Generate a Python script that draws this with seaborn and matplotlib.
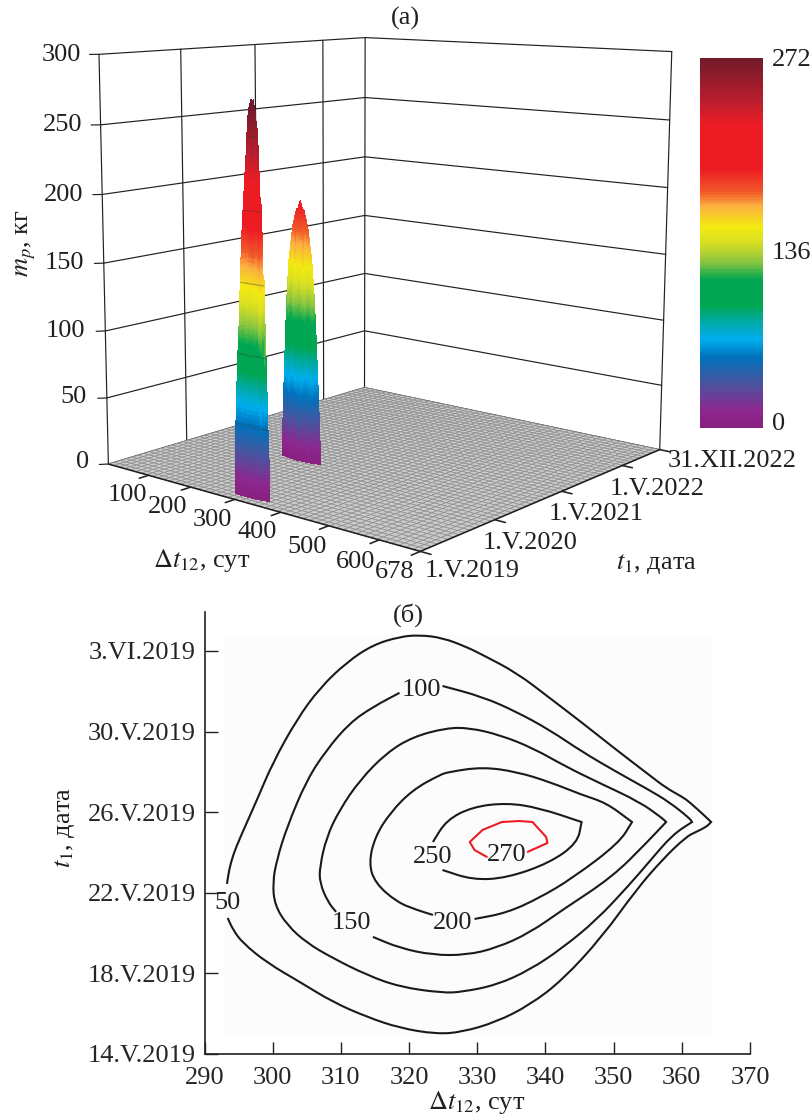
import numpy as np
import matplotlib
matplotlib.use("Agg")
import matplotlib.pyplot as plt
import matplotlib.tri as mtri
from matplotlib.colors import LinearSegmentedColormap
from matplotlib.patches import PathPatch
from matplotlib.path import Path
import seaborn as sns

sns.set_style("ticks")
plt.rcParams["font.family"] = ["Liberation Serif", "DejaVu Serif"]
plt.rcParams["mathtext.fontset"] = "stix"
plt.rcParams["text.color"] = "#231f20"

# contours of panel (b): launch gap in days, t1 in days after 14.V.2019
dt_50 = [293.3, 293.6, 294.2, 295.2, 297.7, 300.0, 303.5, 306.9, 310.9, 314.7, 318.6, 321.5, 324.9, 328.4, 330.8,
         335.8, 340.6, 345.4, 350.4, 355.2, 357.7, 360.1, 361.1, 363.7, 364.3, 363.6, 362.1, 360.6, 357.1, 353.3,
         348.3, 342.5, 337.7, 332.8, 327.8, 324.0, 318.6, 313.8, 308.8, 304.0, 299.2, 295.6, 294.2, 293.4]
t_50 = [8.44, 9.13, 9.88, 10.72, 12.61, 14.44, 16.58, 18.16, 19.45, 20.30, 20.70, 20.79, 20.65, 20.20, 19.80,
        18.91, 17.67, 16.43, 15.09, 13.85, 13.20, 12.75, 12.51, 11.71, 11.51, 11.27, 11.02, 10.77, 9.63, 8.14,
        5.81, 3.67, 2.43, 1.59, 1.09, 0.99, 1.29, 1.84, 2.58, 3.57, 4.52, 5.51, 6.15, 6.75]

dt_100 = [324.9, 330.8, 335.8, 340.6, 345.4, 350.4, 355.2, 358.1, 361.1, 361.5, 358.6, 355.2, 352.3, 347.5, 342.5,
          337.7, 332.8, 327.8, 324.9, 318.6, 313.8, 308.8, 305.0, 302.1, 300.3, 300.0, 300.6, 302.1, 305.0, 307.9,
          311.3, 314.7, 318.6]
t_100 = [18.26, 17.72, 16.97, 16.08, 14.99, 14.00, 13.10, 12.51, 11.71, 11.51, 10.87, 9.53, 8.39, 6.65, 5.26,
         4.17, 3.42, 3.08, 3.03, 3.33, 3.92, 4.76, 5.51, 6.40, 7.39, 8.49, 9.63, 11.27, 13.60, 15.09,
         16.43, 17.22, 17.92]

dt_150 = [314.7, 318.6, 323.5, 328.4, 332.8, 337.7, 342.5, 349.8, 354.8, 357.7, 357.1, 353.8, 347.9, 343.1, 338.1,
          333.3, 328.9, 325.5, 320.5, 316.7, 312.8, 309.8, 307.9, 306.9, 306.9, 308.1, 309.3]
t_150 = [5.81, 5.26, 4.91, 4.91, 5.26, 6.01, 7.15, 8.78, 10.47, 11.51, 11.71, 12.51, 13.45, 14.24, 15.19,
         15.83, 16.18, 16.18, 15.73, 14.94, 13.60, 12.11, 10.77, 9.28, 8.49, 7.54, 7.05]

dt_200 = [329.6, 334.3, 339.1, 344.0, 350.8, 352.7, 352.3, 348.9, 345.4, 340.6, 335.8, 330.8, 325.9, 324.5, 320.5,
          317.2, 315.0, 314.1, 315.0, 318.2, 321.1, 323.5]
t_200 = [6.70, 7.00, 7.74, 8.73, 10.47, 11.51, 11.61, 12.46, 12.85, 13.50, 14.00, 14.24, 14.00, 13.85, 13.10,
         11.96, 10.77, 9.48, 8.49, 7.54, 7.15, 6.90]

dt_250 = [324.9, 329.3, 334.3, 340.6, 344.7, 345.3, 339.1, 334.3, 329.3, 325.5, 323.5]
t_250 = [9.13, 8.64, 8.73, 9.48, 10.47, 11.51, 12.21, 12.46, 12.26, 11.61, 10.52]

dt_270 = [337.4, 340.3, 340.1, 338.1, 336.2, 333.6, 330.8, 328.9, 329.6, 331.4]
t_270 = [10.03, 10.47, 10.77, 11.51, 11.56, 11.51, 11.12, 10.52, 10.12, 9.78]

contour_levels = [50, 100, 150, 200, 250, 270]
contour_dt = [dt_50, dt_100, dt_150, dt_200, dt_250, dt_270]
contour_t = [t_50, t_100, t_150, t_200, t_250, t_270]
label_dt = [293.3, 321.8, 311.6, 326.4, 323.5, 334.3]
label_t = [7.49, 18.07, 6.5, 6.5, 9.78, 9.88]

# foot of the first peak and its summit
foot_dt = [291, 293, 300, 312, 324, 338, 350, 362, 366, 362, 352, 340, 325, 313, 303, 296, 291.5]
foot_t = [7.5, 4.5, 2.5, 0.6, 0, 1.5, 5, 10, 11.5, 12.5, 16.5, 19, 21.8, 21.2, 18, 13, 9.5]
peak1_max = 272
peak1_top = (335.0, 11.0)
peak1_dt_shift = -15
peak1_t_shift = 43

# second peak: level, gap range, half width in t1
peak2_m = [0, 50, 95, 124, 150, 175, 188]
peak2_dt_lo = [190, 195, 200, 204, 209, 218, 227]
peak2_dt_hi = [280, 275, 270, 266, 261, 252, 243]
peak2_t_half = [14, 12, 10, 9, 8, 5, 3]
peak2_top = (235.0, 455.0, 194.0)
peak2_t_mid = 455

# panel (a) axes
dt_ticks = [100, 200, 300, 400, 500, 600, 678]
date_ticks = [0, 366, 731, 1096, 1340]
date_names = ["1.V.2019", "1.V.2020", "1.V.2021", "1.V.2022", "31.XII.2022"]
m_ticks = [0, 50, 100, 150, 200, 250, 300]
dt_max = 678
date_max = 1340
m_max = 300

# panel (b) axes
x_ticks = [290, 300, 310, 320, 330, 340, 350, 360, 370]
y_ticks = [0, 4, 8, 12, 16, 20]
y_names = ["14.V.2019", "18.V.2019", "22.V.2019", "26.V.2019", "30.V.2019", "3.VI.2019"]

# colour ramp of the surface
ramp_pos = [0, 0.045, 0.12, 0.19, 0.24, 0.29, 0.33, 0.40, 0.45, 0.50, 0.545, 0.60, 0.637, 0.70, 0.82, 0.88, 1]
ramp_col = ["#87207f", "#8e278f", "#47549f", "#0072bc", "#00aeef", "#00a99d", "#00a651", "#00a651", "#8dc63f",
            "#d7df23", "#f2ea10", "#fbb040", "#f15a29", "#ed1c24", "#ed1c24", "#be1e2d", "#701a2b"]
ramp = LinearSegmentedColormap.from_list("ramp", list(zip(ramp_pos, ramp_col)))

W, H = 810, 1120
fig = plt.figure(figsize=(W / 100, H / 100), dpi=100)
FS = 19


def put(px, py, s, **kw):
    kw.setdefault("ha", "center")
    kw.setdefault("va", "center")
    kw.setdefault("fontsize", FS)
    fig.text(px / W, 1 - py / H, s, **kw)


# ---- panel (a)
ax = fig.add_axes([0, 1 - W / H, 1, W / H], projection="3d")
ax.set_axis_off()
ax.patch.set_visible(False)
ax.computed_zorder = False

# where box corners land in the picture
world = np.array([[0, 0, 0], [dt_max, 0, 0], [dt_max, date_max, 0], [0, date_max, 0],
                  [0, 0, m_max], [0, date_max, m_max], [dt_max, date_max, m_max],
                  [0, 0, 150], [0, date_max, 150], [dt_max, date_max, 150]], dtype=float)
image = np.array([[108, 463], [421, 552], [659, 450], [365, 388],
                  [99, 55], [365, 37], [672, 52],
                  [103.5, 263], [365, 216], [665.5, 253]], dtype=float)


def camera():
    uv = ax.transData.inverted().transform(np.column_stack([image[:, 0], H - image[:, 1]]))
    scale = np.diag([1 / dt_max, 1 / date_max, 1 / m_max, 1])
    rows = []
    for (x, y, z), (u, v) in zip(world / [dt_max, date_max, m_max], uv):
        rows.append([x, y, z, 1, 0, 0, 0, 0, -u * x, -u * y, -u * z, -u])
        rows.append([0, 0, 0, 0, x, y, z, 1, -v * x, -v * y, -v * z, -v])
    P = np.linalg.svd(np.array(rows))[2][-1].reshape(3, 4)
    if P[2] @ [0.5, 0.5, 0.5, 1] < 0:
        P = -P
    P = P / (P[2] @ [0.5, 0.5, 0.5, 1])
    return np.vstack([P[0] @ scale, P[1] @ scale, [0, 0, 0, -1], P[2] @ scale])


ax.get_proj = camera

thin = dict(color="#231f20", lw=0.85, zorder=1)
for m in m_ticks:
    ax.plot([0, 0], [0, date_max], [m, m], **thin)
    ax.plot([0, dt_max], [date_max, date_max], [m, m], **thin)
    ax.plot([-10, 0], [-23, 0], [m, m], **thin)
for d in date_ticks[1:-1]:
    ax.plot([0, 0], [d, d], [0, m_max], **thin)
ax.plot([0, 0], [0, 0], [0, m_max], **thin)
ax.plot([0, 0], [date_max, date_max], [0, m_max], **thin)
ax.plot([dt_max, dt_max], [date_max, date_max], [0, m_max], **thin)

floor_x, floor_y = np.meshgrid(np.linspace(0, dt_max, 51), np.linspace(0, date_max, 51))
ax.plot_surface(floor_x, floor_y, np.zeros_like(floor_x), rstride=1, cstride=1, shade=False,
                color="#cbcbcb", edgecolor="#8e8e8e", linewidth=0.5, zorder=2)

thick = dict(color="#231f20", lw=1.15, zorder=6)
ax.plot([0, dt_max], [0, 0], [0, 0], **thick)
ax.plot([dt_max, dt_max], [0, date_max], [0, 0], **thick)
for d in dt_ticks:
    ax.plot([d, d], [0, -42], [0, 0], **thick)
for d in date_ticks:
    ax.plot([dt_max, dt_max + 20], [d, d], [0, 0], **thick)

# second peak
xs2, ys2, zs2 = [], [], []
for m, lo, hi, half in zip(peak2_m, peak2_dt_lo, peak2_dt_hi, peak2_t_half):
    mid = (lo + hi) / 2
    xs2 += [lo, (lo + mid) / 2, mid, (hi + mid) / 2, hi, (hi + mid) / 2, mid, (lo + mid) / 2]
    ys2 += [peak2_t_mid, peak2_t_mid + half * 0.8, peak2_t_mid + half, peak2_t_mid + half * 0.8,
            peak2_t_mid, peak2_t_mid - half * 0.8, peak2_t_mid - half, peak2_t_mid - half * 0.8]
    zs2 += [m] * 8
xs2.append(peak2_top[0])
ys2.append(peak2_top[1])
zs2.append(peak2_top[2])


def draw_peak(xs, ys, zs, order, round_above=None):
    tri = mtri.Triangulation(np.array(xs, dtype=float), np.array(ys, dtype=float))
    z = np.array(zs, dtype=float)
    refiner = mtri.UniformTriRefiner(tri)
    fine, fine_z = refiner.refine_field(z, mtri.LinearTriInterpolator(tri, z), subdiv=4)
    if round_above is not None:
        # rounded upper part, straight foot
        _, round_z = refiner.refine_field(z, mtri.CubicTriInterpolator(tri, z, kind="min_E"), subdiv=4)
        fine_z = np.where(fine_z >= round_above, np.minimum(round_z, peak1_max + 4), fine_z)
    ax.plot_trisurf(fine, fine_z, cmap=ramp, vmin=0, vmax=peak1_max, shade=False,
                    linewidth=0, antialiased=False, zorder=order)


draw_peak(xs2, ys2, zs2, 3)

# first peak is built from the contours of panel (b)
xs1 = [d + peak1_dt_shift for d in foot_dt] + [peak1_top[0] + peak1_dt_shift]
ys1 = [t + peak1_t_shift for t in foot_t] + [peak1_top[1] + peak1_t_shift]
zs1 = [0] * len(foot_dt) + [peak1_max]
for level, dts, ts in zip(contour_levels, contour_dt, contour_t):
    xs1 += [d + peak1_dt_shift for d in dts]
    ys1 += [t + peak1_t_shift for t in ts]
    zs1 += [level] * len(dts)
draw_peak(xs1, ys1, zs1, 4, round_above=100)
for level, dts, ts in zip(contour_levels[:5], contour_dt, contour_t):
    ax.plot([d + peak1_dt_shift for d in dts], [t + peak1_t_shift for t in ts], [level] * len(dts),
            color="#333333", lw=0.5, alpha=0.35, zorder=5)

m_right = [81, 82, 83, 84, 85, 87, 89]
m_rows = [462, 397, 331, 263, 195, 125, 55]
for m, px, py in zip(m_ticks, m_right[::-1], m_rows):
    put(px, py, str(m), ha="right")
dt_pos = [(127, 495), (168, 507), (212, 520), (257, 532), (307, 547), (356, 562), (395, 572)]
for d, (px, py) in zip(dt_ticks, dt_pos):
    put(px, py, str(d))
date_pos = [(472, 571), (530, 543), (596, 514), (657, 489), (732, 461)]
for name, (px, py) in zip(date_names, date_pos):
    put(px, py, name)
put(202, 560, r"$\Delta t_{12}$, сут")
put(656, 564, r"$t_1$, дата")
put(26, 243, r"$m_p$, кг", rotation=90)
put(405, 18, "(а)")

cax = fig.add_axes([700 / W, 1 - 428 / H, 63 / W, 370 / H])
sns.heatmap(np.linspace(peak1_max, 0, 256).reshape(-1, 1), cmap=ramp, vmin=0, vmax=peak1_max, cbar=False,
            xticklabels=False, yticklabels=False, ax=cax)
put(772, 60, "272", ha="left")
put(772, 253, "136", ha="left")
put(772, 424, "0", ha="left")

# ---- panel (b)
bx = fig.add_axes([204.5 / W, 1 - 1054 / H, 545.5 / W, 442 / H])
bx.axhspan(0.99, 20.8, xmin=(293 - 290) / 80, xmax=(364.3 - 290) / 80, color="#fcfcfc", lw=0)


def curve_path(xs, ys):
    # quadratic curve through the read vertices, sharp at the right-hand tip
    pts = np.column_stack([xs, ys])
    tip = int(np.argmax(pts[:, 0]))
    verts, codes = [pts[0]], [Path.MOVETO]
    verts.append((pts[0] + pts[1]) / 2)
    codes.append(Path.LINETO)
    for i in range(1, len(pts) - 1):
        mid = (pts[i] + pts[i + 1]) / 2
        if i == tip:
            verts += [pts[i], mid]
            codes += [Path.LINETO, Path.LINETO]
        else:
            verts += [pts[i], mid]
            codes += [Path.CURVE3, Path.CURVE3]
    verts.append(pts[-1])
    codes.append(Path.LINETO)
    return Path(verts, codes)


for level, dts, ts in zip(contour_levels, contour_dt, contour_t):
    if level == 270:
        sns.lineplot(x=dts, y=ts, sort=False, estimator=None, color="#ed1c24", lw=1.5, ax=bx)
    else:
        bx.add_patch(PathPatch(curve_path(dts, ts), fill=False, edgecolor="#1a1a1a", lw=1.5))
for level, x, y in zip(contour_levels, label_dt, label_t):
    bx.text(x, y, str(level), ha="center", va="center", fontsize=FS)
bx.set_xlim(290, 370)
bx.set_ylim(0, 21.93)
bx.set_xticks(x_ticks)
bx.set_yticks(y_ticks)
bx.set_yticklabels(y_names)
bx.tick_params(direction="in", length=9, width=1, labelsize=FS, color="#231f20", pad=6)
bx.tick_params(axis="x", pad=9)
sns.despine(ax=bx)
for side in ("left", "bottom"):
    bx.spines[side].set_linewidth(1.2)
    bx.spines[side].set_color("#231f20")
put(477, 1103, r"$\Delta t_{12}$, сут")
put(65, 828, r"$t_1$, дата", rotation=90)
put(408, 615, "(б)")

fig.savefig("out.png", dpi=100)
